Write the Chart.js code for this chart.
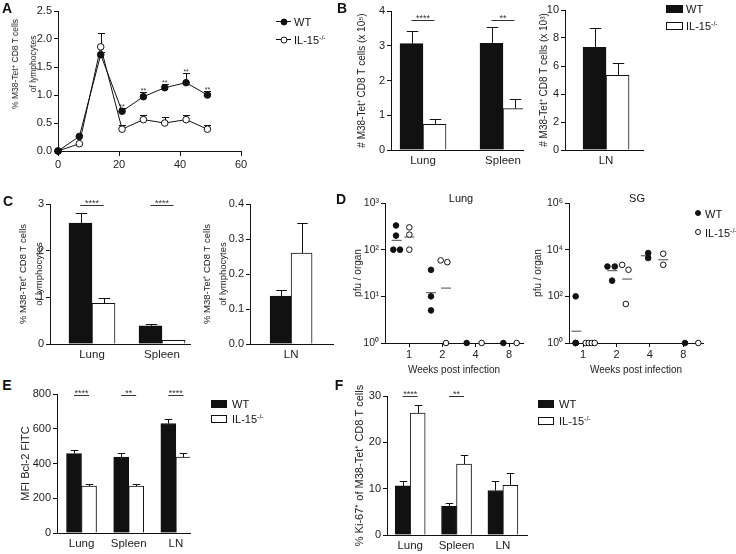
<!DOCTYPE html>
<html lang="en">
<head>
<meta charset="UTF-8">
<title>M38-Tet+ CD8 T cells in WT and IL-15-/- mice</title>
<style>
  body { margin: 0; background: #fff; }
  #fig { position: relative; width: 736px; height: 554px; overflow: hidden;
         font-family: "Liberation Sans", Arial, sans-serif; color: #111; }
  #fig canvas { position: absolute; }
  .t { position: absolute; white-space: nowrap; line-height: 1; transform: translate(-50%, -50%); font-size: 11px; }
  .l { position: absolute; white-space: nowrap; line-height: 1; transform: translateY(-50%); font-size: 11px; }
  .yt { position: absolute; white-space: nowrap; text-align: center; color: #222;
        transform: translate(-50%, -50%) rotate(-90deg); }
  .panel { font-weight: bold; font-size: 14px; }
  .sw { position: absolute; box-sizing: border-box; border: 1px solid #111; }
  .dot { position: absolute; box-sizing: border-box; border: 1px solid #111; border-radius: 50%; transform: translate(-50%, -50%); }
  .ln { position: absolute; height: 1px; background: #111; }
  sup { font-size: 7px; vertical-align: 4px; line-height: 0; }
  .yt sup { font-size: 6px; vertical-align: 3px; }
</style>
<script src="https://cdn.jsdelivr.net/npm/chart.js"></script>
</head>
<body>
<div id="fig">
  <canvas id="chartA"></canvas>
  <canvas id="chartB1"></canvas>
  <canvas id="chartB2"></canvas>
  <canvas id="chartC1"></canvas>
  <canvas id="chartC2"></canvas>
  <canvas id="chartD1"></canvas>
  <canvas id="chartD2"></canvas>
  <canvas id="chartE"></canvas>
  <canvas id="chartF"></canvas>

  <!-- panel letters -->
  <div class="t panel" style="left:7px;top:8px">A</div>
  <div class="t panel" style="left:342px;top:8px">B</div>
  <div class="t panel" style="left:8px;top:201px">C</div>
  <div class="t panel" style="left:341px;top:199px">D</div>
  <div class="t panel" style="left:7px;top:385px">E</div>
  <div class="t panel" style="left:339px;top:385px">F</div>

  <!-- y title A (sits above the axis centre in the original) -->
  <div class="yt" style="left:24px;top:64px;font-size:8.5px;line-height:18px">% M38-Tet<sup>+</sup> CD8 T cells<br>of lymphocytes</div>

  <!-- legend A -->
  <div class="ln" style="left:276px;top:21px;width:15px"></div>
  <div class="dot" style="left:283.5px;top:21.5px;width:7px;height:7px;background:#111"></div>
  <div class="l" style="left:294px;top:22px">WT</div>
  <div class="ln" style="left:276px;top:39px;width:15px"></div>
  <div class="dot" style="left:283.5px;top:39.5px;width:7px;height:7px;background:#fff"></div>
  <div class="l" style="left:294px;top:40px">IL-15<sup>-/-</sup></div>

  <!-- legend B -->
  <div class="sw" style="left:666px;top:5px;width:17px;height:8px;background:#111"></div>
  <div class="l" style="left:686px;top:9px">WT</div>
  <div class="sw" style="left:666px;top:22px;width:17px;height:8px;background:#fff"></div>
  <div class="l" style="left:686px;top:26px">IL-15<sup>-/-</sup></div>

  <!-- panel D titles and legend -->
  <div class="t" style="left:461px;top:198px">Lung</div>
  <div class="t" style="left:637px;top:198px">SG</div>
  <div class="dot" style="left:698px;top:213px;width:6px;height:6px;background:#111"></div>
  <div class="l" style="left:705px;top:214px">WT</div>
  <div class="dot" style="left:698px;top:232px;width:6px;height:6px;background:#fff"></div>
  <div class="l" style="left:705px;top:233px">IL-15<sup>-/-</sup></div>

  <!-- legend E -->
  <div class="sw" style="left:211px;top:400px;width:16px;height:8px;background:#111"></div>
  <div class="l" style="left:232px;top:404px">WT</div>
  <div class="sw" style="left:211px;top:415px;width:16px;height:8px;background:#fff"></div>
  <div class="l" style="left:232px;top:419px">IL-15<sup>-/-</sup></div>

  <!-- legend F -->
  <div class="sw" style="left:538px;top:400px;width:16px;height:8px;background:#111"></div>
  <div class="l" style="left:559px;top:404px">WT</div>
  <div class="sw" style="left:538px;top:417px;width:16px;height:8px;background:#fff"></div>
  <div class="l" style="left:559px;top:421px">IL-15<sup>-/-</sup></div>
</div>

<script>
// ---------- data ----------
// A: kinetics, days post infection
const daysA = [0, 7, 14, 21, 28, 35, 42, 49];
const wtA = [0, 0.26, 1.72, 0.71, 0.97, 1.13, 1.22, 1.00];
const wtAErr = [0, 0.02, 0.05, 0.05, 0.08, 0.07, 0.18, 0.08];
const koA = [0, 0.13, 1.86, 0.39, 0.56, 0.50, 0.56, 0.39];
const koAErr = [0, 0.02, 0.25, 0.08, 0.09, 0.10, 0.09, 0.08];
const starsA = ['', '', '', '**', '**', '**', '**', '**'];

// B: absolute numbers
const organsB = ['Lung', 'Spleen'];
const wtB = [3.06, 3.07];
const wtBErr = [0.36, 0.48];
const koB = [0.74, 1.19];
const koBErr = [0.14, 0.27];
const sigB = ['****', '**'];
const sigBAt = 3.74;
const lnB = ['LN'];
const wtBLN = [7.33];
const wtBLNErr = [1.36];
const koBLN = [5.33];
const koBLNErr = [0.87];

// C: % of lymphocytes
const organsC = ['Lung', 'Spleen'];
const wtC = [2.59, 0.39];
const wtCErr = [0.22, 0.03];
const koC = [0.87, 0.08];
const koCErr = [0.12, 0.015];
const sigC = ['****', '****'];
const sigCAt = 2.97;
const lnC = ['LN'];
const wtCLN = [0.137];
const wtCLNErr = [0.017];
const koCLN = [0.26];
const koCLNErr = [0.086];

// D: viral titres (x = week slot, 1..4 -> weeks 1, 2, 4, 8)
const weekLabels = ['1', '2', '4', '8'];
const lungTicks = [1, 10, 100, 1000];
const sgTicks = [1, 100, 10000, 1000000];
const lungWtX = [0.61, 0.61, 0.53, 0.73, 1.66, 1.66, 1.66, 2.73, 3.83];
const lungWtY = [330, 200, 100, 100, 37, 10, 5, 1, 1];
const lungKoX = [1.01, 1.01, 1.01, 1.95, 2.15, 2.11, 3.18, 4.23];
const lungKoY = [300, 210, 100, 59, 54, 1, 1, 1];
const lungWtMeanX = [0.63, 1.66];
const lungWtMeanY = [158, 12];
const lungKoMeanX = [1.01, 2.11];
const lungKoMeanY = [187, 15];
const sgWtX = [0.78, 0.78, 0.78, 0.78, 1.73, 1.95, 1.87, 2.95, 2.95, 4.05];
const sgWtY = [100, 1, 1, 1, 1900, 1900, 470, 7200, 4400, 1];
const sgKoX = [1.08, 1.17, 1.26, 1.35, 2.17, 2.36, 2.28, 3.4, 3.4, 4.45];
const sgKoY = [1, 1, 1, 1, 2240, 1380, 47, 6700, 2240, 1];
const sgWtMeanX = [0.8, 1.88, 2.88];
const sgWtMeanY = [3.2, 1260, 5500];
const sgKoMeanX = [2.32, 3.4];
const sgKoMeanY = [550, 3700];

// E: Bcl-2
const organsE = ['Lung', 'Spleen', 'LN'];
const wtE = [457, 437, 630];
const wtEErr = [18, 22, 25];
const koE = [270, 270, 437];
const koEErr = [10, 12, 23];
const sigE = ['****', '**', '****'];
const sigEAt = 794;

// F: Ki-67
const wtF = [10.6, 6.2, 9.6];
const wtFErr = [1.1, 0.7, 2.1];
const koF = [26.3, 15.3, 10.7];
const koFErr = [1.8, 1.9, 2.7];
const sigF = ['****', '**', ''];
const sigFAt = 30;

// ---------- helpers ----------
const INK = '#111';
const FONT = '"Liberation Sans", Arial, sans-serif';
const PAD = { left: 4, top: 12, right: 16, bottom: 4 };
const SUP = ['⁰', '¹', '²', '³', '⁴', '⁵', '⁶'];
const TICK = 11;

Chart.defaults.font.family = FONT;
Chart.defaults.color = '#222';
Chart.defaults.animation = false;
Chart.defaults.plugins.legend.display = false;
Chart.defaults.plugins.tooltip.enabled = false;

// place the canvas so the plot area lands on box (l,t,r,b)
function frame(id, box) {
  const c = document.getElementById(id);
  c.width = box.r - box.l + box.yw + PAD.left + PAD.right;
  c.height = box.b - box.t + box.xh + PAD.top + PAD.bottom;
  c.style.left = (box.l - box.yw - PAD.left) + 'px';
  c.style.top = (box.t - PAD.top) + 'px';
  return c;
}

function valueAxis(box, min, max, step, fmt, title, tsize, lh) {
  return {
    type: 'linear', min: min, max: max,
    border: { color: INK, width: 1 },
    grid: { drawOnChartArea: false, tickLength: 4, color: INK },
    ticks: { stepSize: step, padding: 2, font: { size: TICK }, callback: fmt },
    title: { display: !!title, text: title, padding: 0, color: '#222',
             font: { size: tsize || 10, lineHeight: lh || 1.2 } },
    afterFit: s => { s.width = box.yw; }
  };
}

function groupAxis(box, names, min, max) {
  return {
    type: 'linear', min: min, max: max, offset: false,
    border: { color: INK, width: 1 },
    grid: { display: false, drawTicks: false },
    afterBuildTicks: s => { s.ticks = names.map((n, i) => ({ value: i })); },
    ticks: { padding: 4, autoSkip: false, maxRotation: 0, font: { size: 11.5 },
             callback: (v, i) => names[i] },
    afterFit: s => { s.height = box.xh; }
  };
}

function barSets(wt, ko, thick) {
  return [
    { label: 'WT', data: wt.map((v, i) => ({ x: i, y: v })), backgroundColor: INK,
      borderColor: INK, borderWidth: 1, barThickness: thick },
    { label: 'IL-15-/-', data: ko.map((v, i) => ({ x: i, y: v })), backgroundColor: '#fff',
      borderColor: INK, borderWidth: 1, barThickness: thick }
  ];
}

// error bars (up only), significance lines and stars
const marks = {
  id: 'marks',
  beforeDatasetsDraw(chart, args, o) {
    if (!o.errors) return;
    const ctx = chart.ctx, ys = chart.scales.y;
    ctx.save();
    ctx.strokeStyle = INK;
    ctx.lineWidth = 1;
    o.errors.forEach((errs, d) => {
      const meta = chart.getDatasetMeta(d);
      meta.data.forEach((el, i) => {
        if (!errs[i]) return;
        const v = chart.data.datasets[d].data[i].y;
        const x = Math.round(el.x) + 0.5;
        const top = Math.round(ys.getPixelForValue(v + errs[i])) + 0.5;
        const half = o.cap ? o.cap / 2 : el.width / 4;
        ctx.beginPath();
        ctx.moveTo(x, el.y);
        ctx.lineTo(x, top);
        ctx.moveTo(x - half, top);
        ctx.lineTo(x + half, top);
        ctx.stroke();
      });
    });
    ctx.restore();
  },
  afterDatasetsDraw(chart, args, o) {
    const ctx = chart.ctx, ys = chart.scales.y;
    ctx.save();
    ctx.strokeStyle = '#333';
    ctx.fillStyle = '#333';
    ctx.lineWidth = 1;
    ctx.textAlign = 'center';
    ctx.textBaseline = 'alphabetic';
    if (o.sig) {
      ctx.font = '9px ' + FONT;
      const a = chart.getDatasetMeta(0).data, b = chart.getDatasetMeta(1).data;
      const y = Math.round(ys.getPixelForValue(o.sigAt)) + 0.5;
      o.sig.forEach((s, i) => {
        if (!s) return;
        ctx.beginPath();
        ctx.moveTo(a[i].x, y);
        ctx.lineTo(b[i].x, y);
        ctx.stroke();
        ctx.fillText(s, (a[i].x + b[i].x) / 2, y + 0.5);
      });
    }
    if (o.stars) {
      ctx.font = '7px ' + FONT;
      const meta = chart.getDatasetMeta(0);
      o.stars.forEach((s, i) => {
        if (!s) return;
        const v = chart.data.datasets[0].data[i].y + o.errors[0][i];
        ctx.fillText(s, meta.data[i].x, ys.getPixelForValue(v) + 1);
      });
    }
    ctx.restore();
  }
};

function barChart(id, box, names, xmin, xmax, wt, ko, thick, yAxis, extras) {
  frame(id, box);
  return new Chart(id, {
    type: 'bar',
    data: { datasets: barSets(wt, ko, thick) },
    options: {
      responsive: false,
      layout: { padding: PAD },
      scales: { x: groupAxis(box, names, xmin, xmax), y: yAxis },
      plugins: { marks: extras }
    },
    plugins: [marks]
  });
}

// ---------- A ----------
const boxA = { l: 58, t: 11, r: 241, b: 151, yw: 52, xh: 30 };
frame('chartA', boxA);
new Chart('chartA', {
  type: 'line',
  data: {
    datasets: [
      { label: 'WT', data: daysA.map((d, i) => ({ x: d, y: wtA[i] })), borderColor: INK,
        borderWidth: 1, pointRadius: 3.3, pointBackgroundColor: INK, pointBorderColor: INK,
        pointBorderWidth: 1, clip: false },
      { label: 'IL-15-/-', data: daysA.map((d, i) => ({ x: d, y: koA[i] })), borderColor: INK,
        borderWidth: 1, pointRadius: 3.3, pointBackgroundColor: '#fff', pointBorderColor: INK,
        pointBorderWidth: 1, clip: false }
    ]
  },
  options: {
    responsive: false,
    layout: { padding: PAD },
    scales: {
      x: { type: 'linear', min: 0, max: 60,
           border: { color: INK, width: 1 },
           grid: { drawOnChartArea: false, tickLength: 5, color: INK },
           ticks: { stepSize: 20, padding: 2, font: { size: TICK } },
           afterFit: s => { s.height = boxA.xh; } },
      y: valueAxis(boxA, 0, 2.5, 0.5, v => v.toFixed(1), null)
    },
    plugins: { marks: { errors: [wtAErr, koAErr], cap: 7, stars: starsA } }
  },
  plugins: [marks]
});

// ---------- B ----------
const boxB1 = { l: 391, t: 11, r: 523, b: 150, yw: 35, xh: 22 };
barChart('chartB1', boxB1, organsB, -0.4, 1.25, wtB, koB, 23,
  valueAxis(boxB1, 0, 4, 1, v => v, '# M38-Tet⁺ CD8 T cells (x 10⁵)'),
  { errors: [wtBErr, koBErr], sig: sigB, sigAt: sigBAt });

const boxB2 = { l: 565, t: 10, r: 643, b: 150, yw: 27, xh: 22 };
barChart('chartB2', boxB2, lnB, -1, 0.9, wtBLN, koBLN, 23,
  valueAxis(boxB2, 0, 10, 2, v => v, '# M38-Tet⁺ CD8 T cells (x 10³)'),
  { errors: [wtBLNErr, koBLNErr] });

// ---------- C ----------
const boxC1 = { l: 50, t: 204, r: 190, b: 344, yw: 35, xh: 22 };
barChart('chartC1', boxC1, organsC, -0.6, 1.4, wtC, koC, 23,
  valueAxis(boxC1, 0, 3, 1, v => v, ['% M38-Tet⁺ CD8 T cells', 'of lymphocytes'], 9.5, 1.7),
  { errors: [wtCErr, koCErr], sig: sigC, sigAt: sigCAt });

const boxC2 = { l: 250, t: 204, r: 333, b: 344, yw: 51, xh: 22 };
barChart('chartC2', boxC2, lnC, -1, 1.02, wtCLN, koCLN, 21,
  valueAxis(boxC2, 0, 0.4, 0.1, v => v.toFixed(1), ['% M38-Tet⁺ CD8 T cells', 'of lymphocytes'], 9.5, 1.7),
  { errors: [wtCLNErr, koCLNErr] });

// ---------- D ----------
function titreChart(id, box, xmin, xmax, ymax, ticks, wtX, wtY, koX, koY, wmX, wmY, kmX, kmY) {
  frame(id, box);
  const pts = (xs, ys) => xs.map((x, i) => ({ x: x, y: ys[i] }));
  return new Chart(id, {
    type: 'scatter',
    data: {
      datasets: [
        { label: 'WT', data: pts(wtX, wtY), pointRadius: 2.8, pointBackgroundColor: INK,
          pointBorderColor: INK, pointBorderWidth: 1, clip: false },
        { label: 'IL-15-/-', data: pts(koX, koY), pointRadius: 2.8, pointBackgroundColor: '#fff',
          pointBorderColor: INK, pointBorderWidth: 1, clip: false },
        { label: 'WT mean', data: pts(wmX, wmY), pointStyle: 'line', pointRadius: 5,
          pointBorderColor: '#666', pointBorderWidth: 1.2, clip: false },
        { label: 'IL-15-/- mean', data: pts(kmX, kmY), pointStyle: 'line', pointRadius: 5,
          pointBorderColor: '#666', pointBorderWidth: 1.2, clip: false }
      ]
    },
    options: {
      responsive: false,
      layout: { padding: PAD },
      scales: {
        x: { type: 'linear', min: xmin, max: xmax,
             border: { color: INK, width: 1 },
             grid: { drawOnChartArea: false, tickLength: 4, color: INK },
             afterBuildTicks: s => { s.ticks = weekLabels.map((w, i) => ({ value: i + 1 })); },
             ticks: { padding: 1, autoSkip: false, maxRotation: 0, font: { size: TICK },
                      callback: (v, i) => weekLabels[i] },
             title: { display: true, text: 'Weeks post infection', padding: 0, color: '#222',
                      font: { size: 10 } },
             afterFit: s => { s.height = box.xh; } },
        y: { type: 'logarithmic', min: 1, max: ymax,
             border: { color: INK, width: 1 },
             grid: { drawOnChartArea: false, tickLength: 4, color: INK },
             afterBuildTicks: s => { s.ticks = ticks.map(v => ({ value: v })); },
             ticks: { padding: 2, autoSkip: false, font: { size: 10.5 },
                      callback: v => '10' + SUP[Math.round(Math.log10(v))] },
             title: { display: true, text: 'pfu / organ', padding: 0, color: '#222', font: { size: 10 } },
             afterFit: s => { s.width = box.yw; } }
      }
    }
  });
}

const boxD1 = { l: 385, t: 203, r: 523, b: 343, yw: 33, xh: 33 };
titreChart('chartD1', boxD1, 0.28, 4.42, 1000, lungTicks, lungWtX, lungWtY, lungKoX, lungKoY,
  lungWtMeanX, lungWtMeanY, lungKoMeanX, lungKoMeanY);

const boxD2 = { l: 569, t: 203, r: 703, b: 343, yw: 37, xh: 33 };
titreChart('chartD2', boxD2, 0.58, 4.59, 1000000, sgTicks, sgWtX, sgWtY, sgKoX, sgKoY,
  sgWtMeanX, sgWtMeanY, sgKoMeanX, sgKoMeanY);

// ---------- E ----------
const boxE = { l: 57, t: 394, r: 190, b: 533, yw: 38, xh: 22 };
barChart('chartE', boxE, organsE, -0.52, 2.3, wtE, koE, 15,
  valueAxis(boxE, 0, 800, 200, v => v, 'MFI Bcl-2 FITC', 11),
  { errors: [wtEErr, koEErr], sig: sigE, sigAt: sigEAt });

// ---------- F ----------
const boxF = { l: 387, t: 396, r: 527, b: 535, yw: 34, xh: 22 };
barChart('chartF', boxF, organsE, -0.5, 2.52, wtF, koF, 15,
  valueAxis(boxF, 0, 30, 10, v => v, '% Ki-67⁺ of M38-Tet⁺ CD8 T cells', 11),
  { errors: [wtFErr, koFErr], sig: sigF, sigAt: sigFAt });
</script>
</body>
</html>
